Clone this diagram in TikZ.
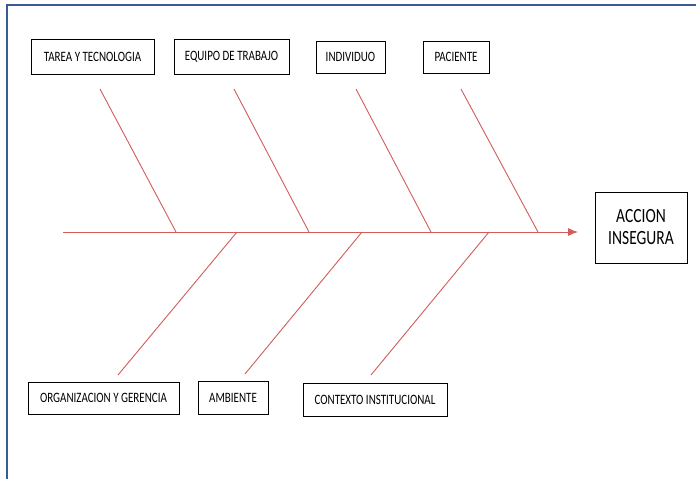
\documentclass[tikz,border=0pt]{standalone}
\usepackage{fontspec}
\setmainfont{Carlito}
\usetikzlibrary{arrows.meta}
\definecolor{bonered}{RGB}{210,92,92}
\definecolor{framblue}{RGB}{58,92,148}
\def\tall#1{\scalebox{1}[1.3]{#1}}
\tikzset{
	cause/.style={draw=black, line width=1pt, inner sep=0pt, font=\fontsize{11}{13}\selectfont, align=center},
	effect/.style={draw=black, line width=1pt, inner sep=0pt, font=\fontsize{15.5}{20}\selectfont, align=center},
	bone/.style={draw=bonered, line width=0.9pt}
}

\begin{document}
\begin{tikzpicture}[x=1pt, y=-1pt]
			%%%%% START %%%%%
			\useasboundingbox (0, 0) rectangle (696, 479);
			\fill[white] (0, 0) rectangle (696, 479);
			
			% frame
			\draw[framblue, line width=2.4pt] (7, 479) -- (7, 5) -- (696, 5);
			
			% causes, top row
			\node[cause, minimum width=123, minimum height=35] (tarea) at (92.5, 56.5) {\tall{TAREA Y TECNOLOGIA}};
			\node[cause, minimum width=115, minimum height=35] (equipo) at (231.5, 56.5) {\tall{EQUIPO DE TRABAJO}};
			\node[cause, minimum width=69, minimum height=32] (individuo) at (350.5, 57) {\tall{INDIVIDUO}};
			\node[cause, minimum width=66, minimum height=32] (paciente) at (456, 57) {\tall{PACIENTE}};
			
			% causes, bottom row
			\node[cause, minimum width=151, minimum height=32] (organizacion) at (103.5, 398) {\tall{ORGANIZACION Y GERENCIA}};
			\node[cause, minimum width=70, minimum height=33] (ambiente) at (233, 397.5) {\tall{AMBIENTE}};
			\node[cause, minimum width=144, minimum height=33] (contexto) at (375, 399.5) {\tall{CONTEXTO INSTITUCIONAL}};
			
			% effect
			\node[effect, minimum width=92, minimum height=71] (accion) at (641, 227.5) {\tall{ACCION}\\[2pt]\tall{INSEGURA}};
			
			% spine
			\coordinate (tail) at (63, 232);
			\coordinate (head) at (578, 232);
			\draw[bone, -{Latex[length=10pt, width=8pt]}] (tail) -- (head);
			
			% upper bones
			\coordinate (t1) at (100, 89);  \coordinate (s1) at (176, 232);
			\coordinate (t2) at (234, 89);  \coordinate (s2) at (309, 232);
			\coordinate (t3) at (356, 89);  \coordinate (s3) at (431, 232);
			\coordinate (t4) at (461, 89);  \coordinate (s4) at (538, 232);
			\draw[bone] (t1) -- (s1);
			\draw[bone] (t2) -- (s2);
			\draw[bone] (t3) -- (s3);
			\draw[bone] (t4) -- (s4);
			
			% lower bones
			\coordinate (s5) at (237, 232);  \coordinate (b5) at (118, 375);
			\coordinate (s6) at (362, 232);  \coordinate (b6) at (245, 374);
			\coordinate (s7) at (489, 232);  \coordinate (b7) at (371, 375);
			\draw[bone] (s5) -- (b5);
			\draw[bone] (s6) -- (b6);
			\draw[bone] (s7) -- (b7);
			
			%%%%% END %%%%%
\end{tikzpicture}
\end{document}
